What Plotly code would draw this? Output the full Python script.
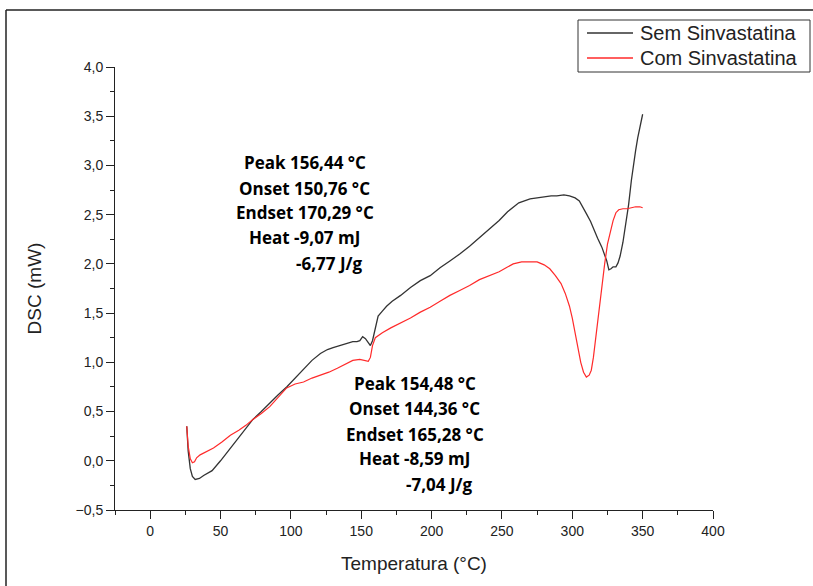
import plotly.graph_objects as go

# DSC curves: temperature (°C) and heat flow (mW)
temp_sem = [26, 27, 28.5, 30, 32, 35, 38, 44, 50, 56, 62, 68, 73, 79, 85, 91, 97, 103, 109,
            115, 121, 126, 130, 135, 140, 144, 147, 149, 151, 153, 155, 156.5, 158, 160, 162,
            165, 168, 172, 178, 185, 192, 199, 206, 213, 220, 227, 234, 241, 248, 254, 258,
            262, 266, 270, 275, 280, 285, 289, 294, 298, 302, 305, 308, 310, 313, 315, 318,
            321, 323, 324.5, 326, 327.5, 329, 331, 332.5, 334, 336, 338, 340, 342, 343.5, 345,
            346.5, 348, 350]
dsc_sem = [0.35, 0.10, -0.08, -0.16, -0.19, -0.18, -0.15, -0.10, 0.00, 0.11, 0.21, 0.32, 0.42,
           0.50, 0.59, 0.67, 0.75, 0.84, 0.93, 1.02, 1.09, 1.13, 1.15, 1.17, 1.19, 1.21, 1.21,
           1.22, 1.26, 1.24, 1.20, 1.17, 1.22, 1.36, 1.47, 1.52, 1.57, 1.62, 1.68, 1.76, 1.83,
           1.88, 1.96, 2.03, 2.10, 2.18, 2.27, 2.35, 2.44, 2.53, 2.58, 2.62, 2.64, 2.66, 2.67,
           2.68, 2.69, 2.69, 2.70, 2.69, 2.67, 2.64, 2.57, 2.51, 2.43, 2.36, 2.26, 2.17, 2.09,
           2.03, 1.94, 1.95, 1.97, 1.97, 2.01, 2.08, 2.22, 2.40, 2.60, 2.85, 3.02, 3.15, 3.28,
           3.38, 3.52]

temp_com = [26, 27, 28.5, 30, 31.5, 33, 35.5, 40, 45, 51, 57, 63, 68, 73, 79, 85, 91, 97, 103,
            109, 115, 121, 127, 133, 139, 144, 149, 153, 155, 156.5, 158, 160, 165, 171, 178,
            185, 192, 199, 206, 213, 220, 227, 234, 241, 248, 253, 258, 264, 270, 275, 280, 284,
            288, 292, 295, 298, 300, 302, 304, 306, 308, 310, 312, 313.5, 315, 317, 319, 321,
            323, 325, 327, 329, 331, 333, 336, 339, 342, 345, 348, 350]
dsc_com = [0.35, 0.15, 0.02, -0.02, -0.01, 0.03, 0.06, 0.09, 0.13, 0.19, 0.26, 0.31, 0.36, 0.42,
           0.48, 0.55, 0.65, 0.74, 0.78, 0.80, 0.84, 0.87, 0.90, 0.94, 0.98, 1.02, 1.03, 1.02,
           1.01, 1.05, 1.17, 1.25, 1.30, 1.35, 1.40, 1.45, 1.51, 1.56, 1.62, 1.68, 1.73, 1.78,
           1.84, 1.88, 1.92, 1.96, 2.00, 2.02, 2.02, 2.02, 1.99, 1.95, 1.88, 1.80, 1.70, 1.57,
           1.45, 1.30, 1.15, 1.00, 0.90, 0.85, 0.87, 0.92, 1.05, 1.30, 1.55, 1.77, 2.00, 2.20,
           2.33, 2.44, 2.52, 2.55, 2.56, 2.56, 2.57, 2.58, 2.58, 2.57]

series_names = ["Sem Sinvastatina", "Com Sinvastatina"]
series_colors = ["#333333", "#ff2a2a"]

# Thermal event summaries for each sample
text_sem = ["Peak 156,44 °C", "Onset 150,76 °C", "Endset 170,29 °C", "Heat -9,07 mJ"]
extra_sem = "-6,77 J/g"
text_com = ["Peak 154,48 °C", "Onset 144,36 °C", "Endset 165,28 °C", "Heat -8,59 mJ"]
extra_com = "-7,04 J/g"

# plot-area geometry in pixels, used to place page-level decorations
L, R, T, B = 115, 100, 67, 76
W, H = 813, 586
PW, PH = W - L - R, H - T - B


def px(xp):
    return (xp - L) / PW


def py(yp):
    return (H - B - yp) / PH


fig = go.Figure()
fig.add_trace(go.Scatter(x=temp_sem, y=dsc_sem, mode="lines", name=series_names[0],
                         line=dict(color=series_colors[0], width=1.3), showlegend=False))
fig.add_trace(go.Scatter(x=temp_com, y=dsc_com, mode="lines", name=series_names[1],
                         line=dict(color=series_colors[1], width=1.2), showlegend=False))

note_font = dict(family="Open Sans", size=17, color="black")
line_ys_sem = [3.03, 2.77, 2.52, 2.27]
for t, yv in zip(text_sem, line_ys_sem):
    fig.add_annotation(x=110, y=yv, text="<b>%s</b>" % t, showarrow=False,
                       xanchor="center", yanchor="middle", font=note_font)
fig.add_annotation(x=153, y=2.00, text="<b>%s</b>" % extra_sem, showarrow=False,
                   xanchor="right", yanchor="middle", font=note_font)

line_ys_com = [0.78, 0.53, 0.27, 0.02]
for t, yv in zip(text_com, line_ys_com):
    fig.add_annotation(x=188, y=yv, text="<b>%s</b>" % t, showarrow=False,
                       xanchor="center", yanchor="middle", font=note_font)
fig.add_annotation(x=231, y=-0.24, text="<b>%s</b>" % extra_com, showarrow=False,
                   xanchor="right", yanchor="middle", font=note_font)

axis_font = dict(family="Arial", size=14, color="#222222")
fig.update_xaxes(range=[-25, 400], tick0=0, dtick=50, ticks="outside", ticklen=8,
                 tickwidth=1, tickcolor="#222222", showline=True, linecolor="#222222",
                 linewidth=1, showgrid=False, zeroline=False, tickfont=axis_font,
                 minor=dict(ticks="outside", dtick=25, tick0=0, ticklen=4,
                            tickcolor="#222222", showgrid=False),
                 title=dict(text="Temperatura (°C)", standoff=18,
                            font=dict(family="Arial", size=19, color="#222222")))
fig.update_yaxes(range=[-0.5, 4.0], tick0=0, dtick=0.5, tickformat=".1f", ticks="outside",
                 ticklen=8, tickwidth=1, tickcolor="#222222", showline=True,
                 linecolor="#222222", linewidth=1, showgrid=False, zeroline=False,
                 tickfont=axis_font,
                 minor=dict(ticks="outside", dtick=0.25, tick0=0, ticklen=4,
                            tickcolor="#222222", showgrid=False),
                 title=dict(text="DSC (mW)", standoff=28,
                            font=dict(family="Arial", size=19, color="#222222")))

# frame lines along the top and left edges of the page
fig.add_shape(type="line", xref="paper", yref="paper", x0=px(6), x1=px(W + 5),
              y0=py(10), y1=py(10), line=dict(color="#222222", width=1.5))
fig.add_shape(type="line", xref="paper", yref="paper", x0=px(6), x1=px(6),
              y0=py(10), y1=py(H + 5), line=dict(color="#222222", width=1.5))

# legend box with line samples and labels
fig.add_shape(type="rect", xref="paper", yref="paper", x0=px(578), x1=px(810),
              y0=py(72), y1=py(20), line=dict(color="#333333", width=1),
              fillcolor="white", layer="above")
for i, (name, color) in enumerate(zip(series_names, series_colors)):
    yrow = 33 + 25 * i
    fig.add_shape(type="line", xref="paper", yref="paper", x0=px(587), x1=px(633),
                  y0=py(yrow), y1=py(yrow), line=dict(color=color, width=1.5))
    fig.add_annotation(xref="paper", yref="paper", x=px(638), y=py(yrow), text=name,
                       showarrow=False, xanchor="left", yanchor="middle",
                       font=dict(family="Arial", size=20, color="#222222"))

fig.update_layout(
    width=W, height=H,
    margin=dict(l=L, r=R, t=T, b=B, autoexpand=False),
    plot_bgcolor="white", paper_bgcolor="white",
    separators=",.",
    showlegend=False,
)

fig.write_html("out.html")
